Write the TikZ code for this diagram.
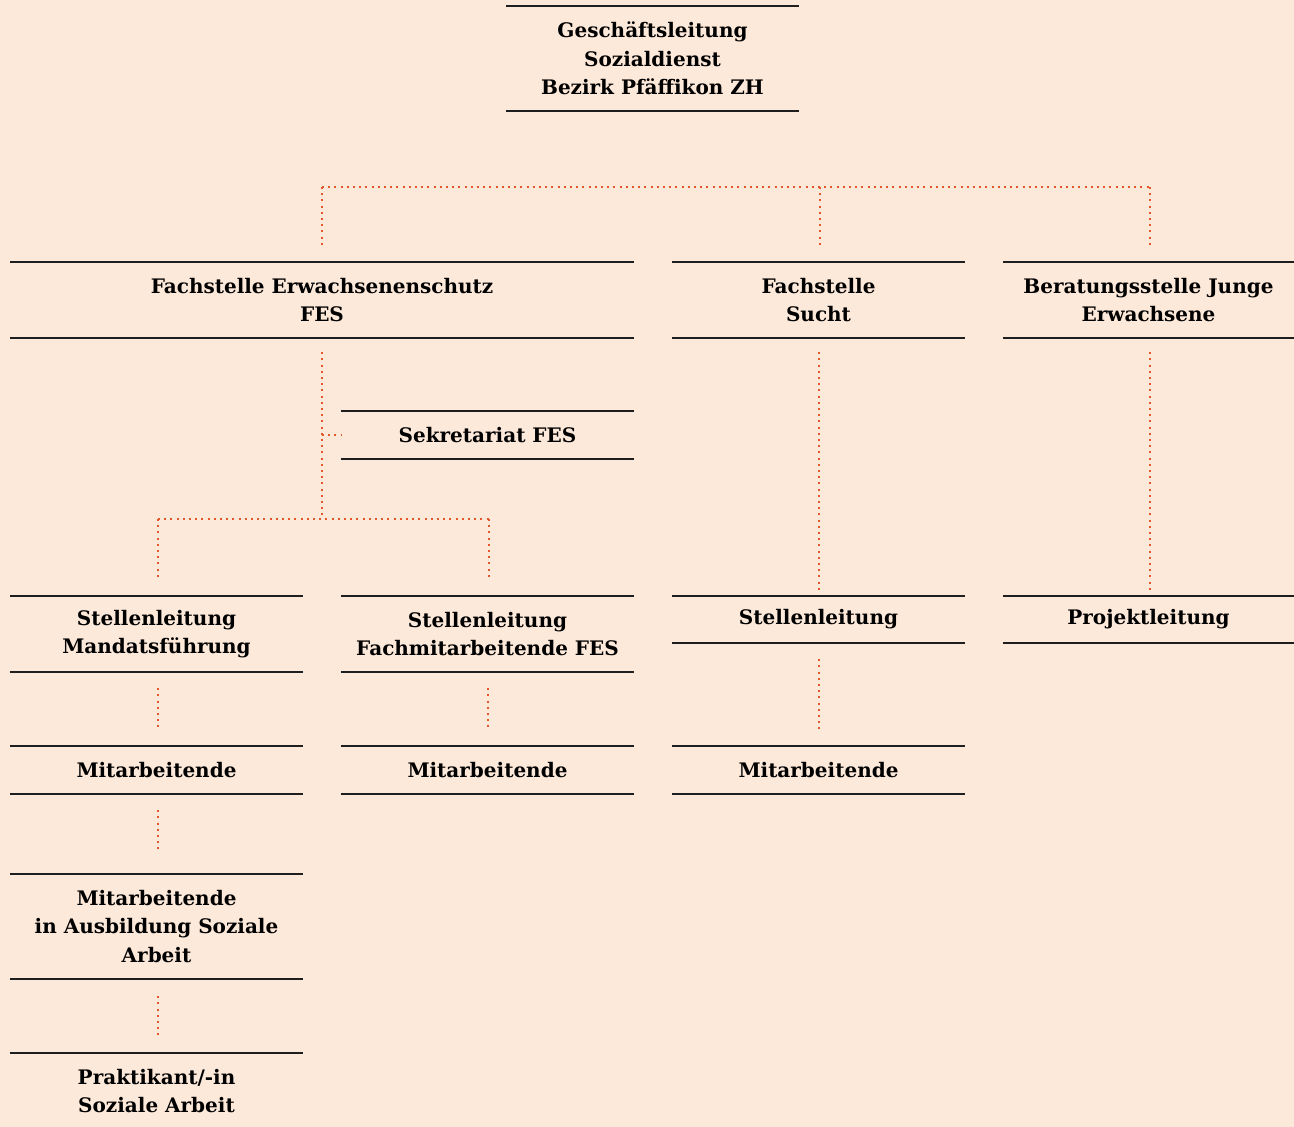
\documentclass[tikz,border=0pt]{standalone}
\usepackage{fontspec}
\setmainfont{DejaVu Serif}
\definecolor{bg}{HTML}{FDE9DA}
\definecolor{dotc}{HTML}{E2582A}
\definecolor{rulec}{HTML}{1E1E1E}
\begin{document}
\begin{tikzpicture}[x=1pt,y=-1pt,
  font=\bfseries\fontsize{20}{28.5}\selectfont,
  box/.style={inner sep=0pt, align=center, text=black},
  rule/.style={draw=rulec, line width=2pt},
  dots/.style={draw=dotc, line width=2pt, dash pattern=on 2pt off 4.2pt}]
\fill[bg] (0,0) rectangle (1294,1127);
\useasboundingbox (0,0) rectangle (1294,1127);
% nodes
\node[box, minimum width=293pt, minimum height=105pt] (top) at (652.5,58.5) {Geschäftsleitung\\Sozialdienst\\Bezirk Pfäffikon ZH};
\node[box, minimum width=624pt, minimum height=76pt] (fes) at (322,300) {Fachstelle Erwachsenenschutz\\FES};
\node[box, minimum width=293pt, minimum height=76pt] (sucht) at (818.5,300) {Fachstelle\\Sucht};
\node[box, minimum width=291pt, minimum height=76pt] (junge) at (1148.5,300) {Beratungsstelle Junge\\Erwachsene};
\node[box, minimum width=293pt, minimum height=48pt] (sek) at (487.5,435) {Sekretariat FES};
\node[box, minimum width=293pt, minimum height=76pt] (mand) at (156.5,634) {Stellenleitung\\Mandatsführung};
\node[box, minimum width=293pt, minimum height=76pt] (fach) at (487.5,634) {Stellenleitung\\Fachmitarbeitende FES};
\node[box, minimum width=293pt, minimum height=47pt] (stell) at (818.5,619.5) {Stellenleitung};
\node[box, minimum width=291pt, minimum height=47pt] (proj) at (1148.5,619.5) {Projektleitung};
\node[box, minimum width=293pt, minimum height=48pt] (mitA) at (156.5,770) {Mitarbeitende};
\node[box, minimum width=293pt, minimum height=48pt] (mitB) at (487.5,770) {Mitarbeitende};
\node[box, minimum width=293pt, minimum height=48pt] (mitC) at (818.5,770) {Mitarbeitende};
\node[box, minimum width=293pt, minimum height=105pt] (ausb) at (156.5,926.5) {Mitarbeitende\\in Ausbildung Soziale\\Arbeit};
\node[box, minimum width=293pt, minimum height=76pt] (prak) at (156.5,1091) {Praktikant/-in\\Soziale Arbeit};
% rules
\foreach \n in {top,fes,sucht,junge,sek,mand,fach,stell,proj,mitA,mitB,mitC,ausb,prak}
  \draw[rule] (\n.north west) -- (\n.north east) (\n.south west) -- (\n.south east);
% connectors
\coordinate (hL) at (322,187);
\coordinate (hM) at (820,187);
\coordinate (hR) at (1150,187);
\draw[dots] (hL) -- (hR);
\draw[dots] (hL) -- ([yshift=15pt]fes.north);
\draw[dots] (hM) -- ([xshift=1.5pt,yshift=15pt]sucht.north);
\draw[dots] (hR) -- ([xshift=1.5pt,yshift=15pt]junge.north);
\coordinate (jS) at (fes.south |- sek.west);
\coordinate (jB) at (322,519);
\coordinate (bL) at (158,519);
\coordinate (bR) at (489,519);
\draw[dots] ([yshift=-14pt]fes.south) -- (jB);
\draw[dots] (jS) -- (sek.west);
\draw[dots] (bL) -- (bR);
\draw[dots] (bL) -- ([xshift=1.5pt,yshift=17pt]mand.north);
\draw[dots] (bR) -- ([xshift=1.5pt,yshift=17pt]fach.north);
\draw[dots] ([yshift=-14pt]sucht.south) -- ([yshift=2pt]stell.north);
\draw[dots] ([xshift=1.5pt,yshift=-14pt]junge.south) -- ([xshift=1.5pt,yshift=2pt]proj.north);
\draw[dots] ([xshift=1.5pt,yshift=-16pt]mand.south) -- ([xshift=1.5pt,yshift=15pt]mitA.north);
\draw[dots] ([yshift=-16pt]fach.south) -- ([yshift=15pt]mitB.north);
\draw[dots] ([yshift=-16pt]stell.south) -- ([yshift=15pt]mitC.north);
\draw[dots] ([xshift=1.5pt,yshift=-16pt]mitA.south) -- ([xshift=1.5pt,yshift=22pt]ausb.north);
\draw[dots] ([xshift=1.5pt,yshift=-17pt]ausb.south) -- ([xshift=1.5pt,yshift=15pt]prak.north);
\end{tikzpicture}
\end{document}
